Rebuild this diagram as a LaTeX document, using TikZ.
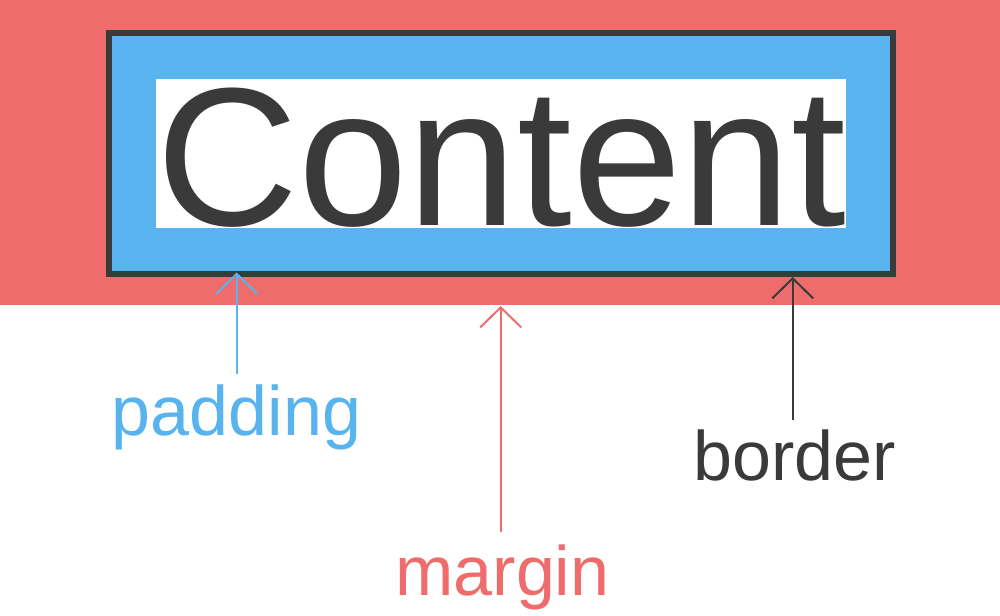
\documentclass[tikz,border=0pt]{standalone}
\usepackage{fontspec}
\setmainfont{Liberation Sans}
\usetikzlibrary{arrows.meta}
\definecolor{mred}{RGB}{239,108,108}
\definecolor{mblue}{RGB}{88,179,238}
\definecolor{mdark}{RGB}{58,58,58}
\begin{document}
\begin{tikzpicture}[x=1pt,y=-1pt,
  arr/.style={line width=2pt,-{Straight Barb[length=20pt,width=41pt,line width=2pt]}},
  lbl/.style={anchor=base,inner sep=0pt,font=\fontsize{70}{70}\selectfont}]
\useasboundingbox (0,0) rectangle (1000,615);
\fill[mred] (0,0) rectangle (1000,305);
\node[draw=mdark,line width=6pt,fill=mblue,minimum width=784pt,minimum height=240.5pt,inner sep=0pt] (border) at (501,153.25) {};
\node[fill=white,minimum width=690pt,minimum height=149pt,inner sep=0pt] (content) at (501,153.5) {};
\node[anchor=base,inner sep=0pt,text=mdark,font=\fontsize{197}{197}\selectfont] (ctext) at (501,225.5) {Content};
\node[lbl,text=mblue] (padding) at (236.5,435) {padding};
\node[lbl,text=mred] (margin) at (502.5,595) {margin};
\node[lbl,text=mdark] (borderlbl) at (795,480) {border};
\coordinate (ptail) at (236.7,374);
\coordinate (ptip) at (236.7,272.5);
\coordinate (mtail) at (500.7,532);
\coordinate (mtip) at (500.7,306);
\coordinate (btail) at (792.7,420);
\coordinate (btip) at (792.7,277);
\draw[arr,mblue] (ptail) -- (ptip);
\draw[arr,mred] (mtail) -- (mtip);
\draw[arr,mdark] (btail) -- (btip);
\end{tikzpicture}
\end{document}
